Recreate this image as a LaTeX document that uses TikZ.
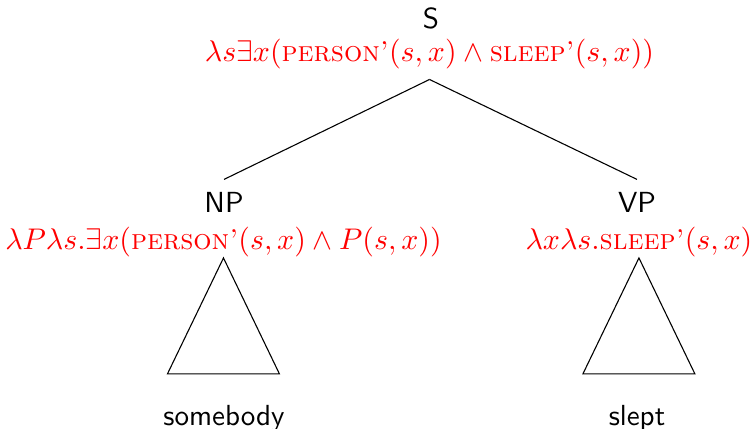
\documentclass[tikz,border=0pt]{standalone}
\usepackage{amsmath, amssymb}
\usepackage{tikz}

\begin{document}
\begin{tikzpicture}[
    cat/.style={font=\fontsize{10.65}{13}\selectfont\sffamily, anchor=base, inner xsep=2pt, inner ysep=4.7pt},
    sem/.style={font=\fontsize{10.52}{13}\selectfont, text=red, anchor=base, inner xsep=1pt, inner ysep=0pt},
    word/.style={font=\fontsize{10.65}{13}\selectfont\sffamily, anchor=base}
  ]
        \useasboundingbox (0,0) rectangle (9.678,5.528);
        % categories
        \node[cat] (s) at (5.554,5.167) {S};
        \node[cat] (np) at (2.887,2.784) {NP};
        \node[cat] (vp) at (8.209,2.784) {VP};
        % meanings
        \node[sem, inner ysep=3.5pt] (s-sem) at (5.535,4.730)
          {$\lambda s\exists x(\textsc{person'}(s,x)\wedge\textsc{sleep'}(s,x))$};
        \node[sem] (np-sem) at (2.880,2.307)
          {$\lambda P\lambda s.\exists x(\textsc{person'}(s,x)\wedge P(s,x))$};
        \node[sem] (vp-sem) at (8.234,2.307)
          {$\lambda x\lambda s.\textsc{sleep'}(s,x)$};
        \draw (s-sem.south) -- (np.north);
        \draw (s-sem.south) -- (vp.north);
        % triangles
        \draw (np-sem.south) -- ++(-0.722,-1.494) -- ++(1.443,0) -- cycle;
        \draw (vp-sem.south) -- ++(-0.722,-1.494) -- ++(1.443,0) -- cycle;
        \node[word] (somebody) at (2.887,0.039) {somebody};
        \node[word] (slept) at (8.209,0.039) {slept};
      \end{tikzpicture}
\end{document}
